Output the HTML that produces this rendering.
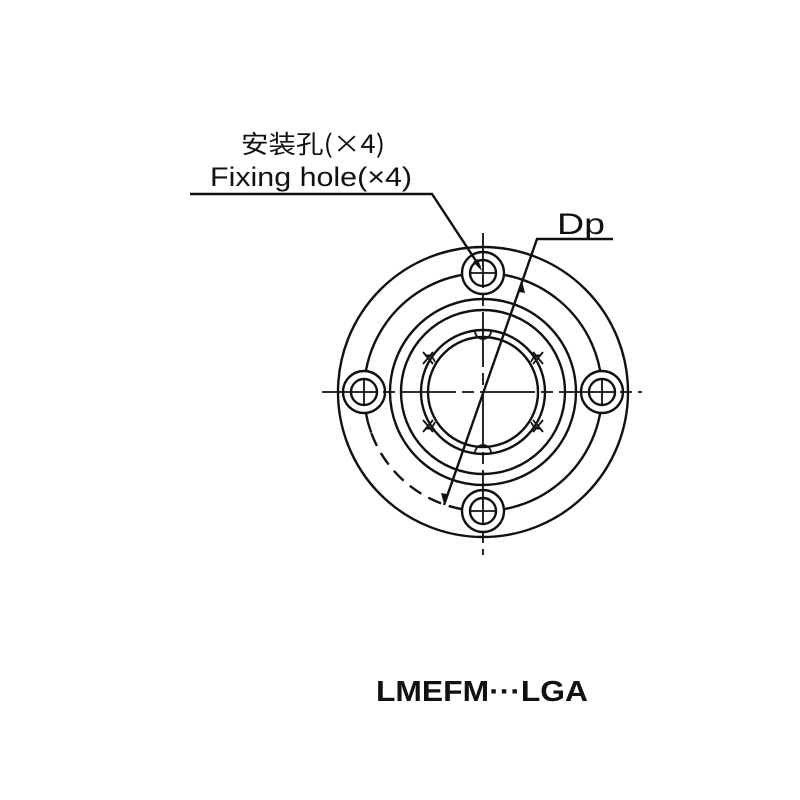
<!DOCTYPE html>
<html><head><meta charset="utf-8"><style>
html,body{margin:0;padding:0;background:#fff;}
svg{display:block}
</style></head><body>
<svg width="800" height="800" viewBox="0 0 800 800" xmlns="http://www.w3.org/2000/svg">
<g fill="none" stroke="#111" stroke-width="2.4">
  <circle cx="483" cy="392" r="145"/>
  <path d="M371.2 432.7 A119 119 0 1 1 462.3 509.2"/>
  <path d="M462.3 509.2 A119 119 0 0 1 371.2 432.7" stroke-dasharray="14 8"/>
  <circle cx="483" cy="392" r="93"/>
  <circle cx="483" cy="392" r="82"/>
  <circle cx="483" cy="392" r="62"/>
  <circle cx="483" cy="392" r="55"/>
  <g>
    <circle cx="483" cy="273" r="21" fill="#fff"/><circle cx="483" cy="273" r="13"/>
    <circle cx="483" cy="511" r="21" fill="#fff"/><circle cx="483" cy="511" r="13"/>
    <circle cx="364" cy="392" r="21" fill="#fff"/><circle cx="364" cy="392" r="13"/>
    <circle cx="602" cy="392" r="21" fill="#fff"/><circle cx="602" cy="392" r="13"/>
  </g>
  <g stroke-width="1.8">
    <path d="M475 331 A8 8 0 0 0 491 331"/>
    <path d="M475 453 A8 8 0 0 1 491 453"/>
    <path d="M425 356 q6 -3 10 6"/><path d="M425 428 q6 3 10 -6"/>
    <path d="M541 356 q-6 -3 -10 6"/><path d="M541 428 q-6 3 -10 -6"/>
    <path d="M423 352 l10 12 M433 352 l-10 12"/>
    <path d="M423 420 l10 12 M433 420 l-10 12"/>
    <path d="M533 352 l10 12 M543 352 l-10 12"/>
    <path d="M533 420 l10 12 M543 420 l-10 12"/>
  </g>
  <g stroke-width="1.8">
    <line x1="483" y1="233" x2="483" y2="555" stroke-dasharray="55 6 12 6"/>
    <line x1="322" y1="392" x2="642" y2="392" stroke-dasharray="55 6 12 6"/>
    <line x1="470" y1="273" x2="496" y2="273"/><line x1="470" y1="511" x2="496" y2="511"/>
    <line x1="364" y1="379" x2="364" y2="405"/><line x1="602" y1="379" x2="602" y2="405"/>
  </g>
  <polyline points="190,194 432,194 480,267"/>
  <polyline points="444,505 537,239 613,239"/>
</g>
<g fill="#111">
  <polygon points="482,271 473,262 478,259"/>
  <polygon points="522,281 519,292 525,293"/>
  <polygon points="444,504 441,493 447,494"/>
</g>
<g font-family="Liberation Sans, 'Noto Sans CJK SC', sans-serif" fill="#111">
  <text x="241" y="153" font-size="25" textLength="144" lengthAdjust="spacingAndGlyphs" font-family="'Noto Sans CJK SC', sans-serif">安装孔(×4)</text>
  <text x="210" y="186" font-size="27" textLength="202" lengthAdjust="spacingAndGlyphs">Fixing hole(×4)</text>
  <text x="557" y="234" font-size="30" textLength="48" lengthAdjust="spacingAndGlyphs">Dp</text>
  <text x="376" y="701" font-size="29" font-weight="bold" textLength="212" lengthAdjust="spacingAndGlyphs">LMEFM···LGA</text>
</g>
</svg>
</body></html>
